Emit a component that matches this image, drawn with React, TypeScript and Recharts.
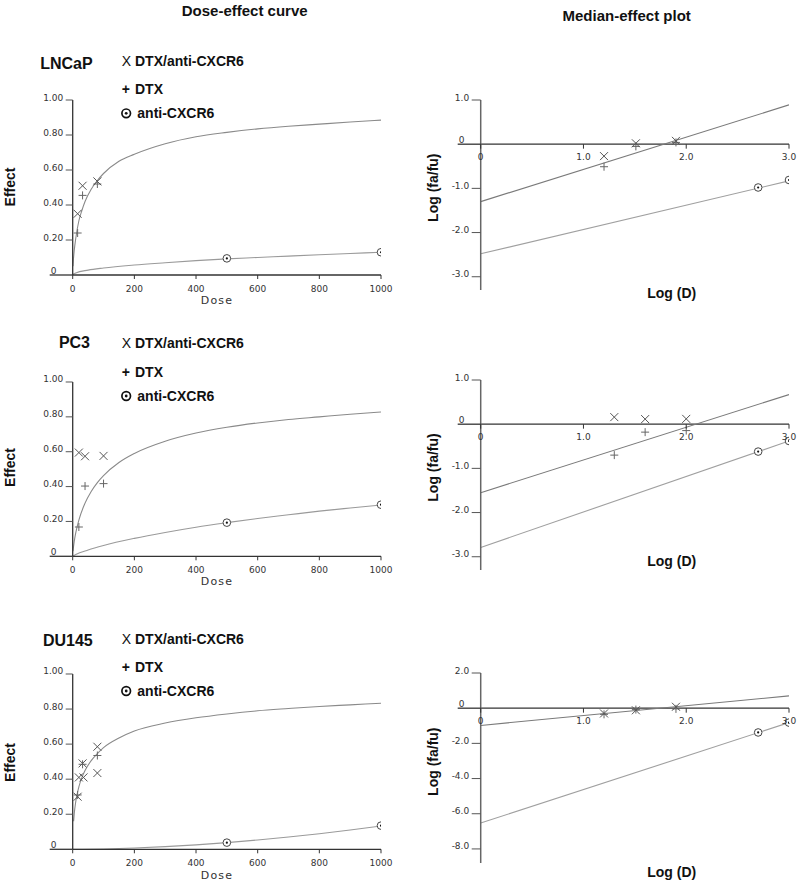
import React from 'react';
import { ComposedChart, Line, Scatter, XAxis, YAxis, ReferenceLine } from 'recharts';

const FONT = '"Liberation Sans", Arial, Helvetica, sans-serif';
const TICK_FONT = '"DejaVu Sans", Verdana, sans-serif';

// ---------- tick values ----------
const doseTicks = [0, 200, 400, 600, 800, 1000];
const effectTicks = [0, 0.2, 0.4, 0.6, 0.8, 1.0];
const logDTicks = [0, 1, 2, 3];
const medianTicksSmall = [-3, -2, -1, 0, 1];
const medianTicksWide = [-8, -6, -4, -2, 0, 2];

// ---------- LNCaP ----------
const lncapComboDose = [{ dose: 16, effect: 0.35 }, { dose: 32, effect: 0.51 }, { dose: 80, effect: 0.535 }];
const lncapDtxDose = [{ dose: 16, effect: 0.24 }, { dose: 32, effect: 0.455 }, { dose: 80, effect: 0.52 }];
const lncapAbDose = [{ dose: 500, effect: 0.095 }, { dose: 1000, effect: 0.13 }];
const lncapUpperCurve = [
  { dose: 1, effect: 0.05 }, { dose: 2, effect: 0.08 }, { dose: 5, effect: 0.14 }, { dose: 10, effect: 0.21 },
  { dose: 20, effect: 0.31 }, { dose: 30, effect: 0.37 }, { dose: 40, effect: 0.42 }, { dose: 60, effect: 0.49 },
  { dose: 80, effect: 0.54 }, { dose: 100, effect: 0.58 }, { dose: 150, effect: 0.65 }, { dose: 200, effect: 0.69 },
  { dose: 300, effect: 0.75 }, { dose: 400, effect: 0.79 }, { dose: 500, effect: 0.815 }, { dose: 600, effect: 0.835 },
  { dose: 700, effect: 0.85 }, { dose: 800, effect: 0.862 }, { dose: 900, effect: 0.874 }, { dose: 1000, effect: 0.885 },
];
const lncapLowerCurve = [
  { dose: 0, effect: 0 }, { dose: 2, effect: 0.005 }, { dose: 10, effect: 0.012 }, { dose: 50, effect: 0.028 },
  { dose: 100, effect: 0.04 }, { dose: 200, effect: 0.057 }, { dose: 300, effect: 0.07 }, { dose: 400, effect: 0.082 },
  { dose: 500, effect: 0.092 }, { dose: 600, effect: 0.1 }, { dose: 700, effect: 0.108 }, { dose: 800, effect: 0.116 },
  { dose: 900, effect: 0.123 }, { dose: 1000, effect: 0.13 },
];
const lncapComboMedian = [{ logD: 1.2, logRatio: -0.27 }, { logD: 1.51, logRatio: 0.02 }, { logD: 1.9, logRatio: 0.075 }];
const lncapDtxMedian = [{ logD: 1.2, logRatio: -0.51 }, { logD: 1.51, logRatio: -0.05 }, { logD: 1.9, logRatio: 0.04 }];
const lncapAbMedian = [{ logD: 2.7, logRatio: -0.98 }, { logD: 3.0, logRatio: -0.81 }];
const lncapUpperLine = [{ logD: 0, logRatio: -1.3 }, { logD: 3, logRatio: 0.89 }];
const lncapLowerLine = [{ logD: 0, logRatio: -2.48 }, { logD: 3, logRatio: -0.83 }];

// ---------- PC3 ----------
const pc3ComboDose = [{ dose: 20, effect: 0.595 }, { dose: 40, effect: 0.574 }, { dose: 100, effect: 0.576 }];
const pc3DtxDose = [{ dose: 20, effect: 0.168 }, { dose: 40, effect: 0.403 }, { dose: 100, effect: 0.417 }];
const pc3AbDose = [{ dose: 500, effect: 0.193 }, { dose: 1000, effect: 0.296 }];
const pc3UpperCurve = [
  { dose: 1, effect: 0.03 }, { dose: 2, effect: 0.046 }, { dose: 5, effect: 0.086 }, { dose: 10, effect: 0.136 },
  { dose: 20, effect: 0.208 }, { dose: 40, effect: 0.305 }, { dose: 60, effect: 0.372 }, { dose: 80, effect: 0.423 },
  { dose: 100, effect: 0.463 }, { dose: 150, effect: 0.538 }, { dose: 200, effect: 0.59 }, { dose: 300, effect: 0.66 },
  { dose: 400, effect: 0.707 }, { dose: 500, effect: 0.74 }, { dose: 600, effect: 0.765 }, { dose: 700, effect: 0.785 },
  { dose: 800, effect: 0.8 }, { dose: 900, effect: 0.815 }, { dose: 1000, effect: 0.828 },
];
const pc3LowerCurve = [
  { dose: 0, effect: 0 }, { dose: 10, effect: 0.01 }, { dose: 50, effect: 0.036 }, { dose: 100, effect: 0.062 },
  { dose: 200, effect: 0.103 }, { dose: 300, effect: 0.137 }, { dose: 400, effect: 0.167 }, { dose: 500, effect: 0.193 },
  { dose: 600, effect: 0.217 }, { dose: 700, effect: 0.238 }, { dose: 800, effect: 0.259 }, { dose: 900, effect: 0.277 },
  { dose: 1000, effect: 0.294 },
];
const pc3ComboMedian = [{ logD: 1.3, logRatio: 0.16 }, { logD: 1.6, logRatio: 0.115 }, { logD: 2.0, logRatio: 0.12 }];
const pc3DtxMedian = [{ logD: 1.3, logRatio: -0.7 }, { logD: 1.6, logRatio: -0.18 }, { logD: 2.0, logRatio: -0.145 }];
const pc3AbMedian = [{ logD: 2.7, logRatio: -0.62 }, { logD: 3.0, logRatio: -0.38 }];
const pc3UpperLine = [{ logD: 0, logRatio: -1.55 }, { logD: 3, logRatio: 0.67 }];
const pc3LowerLine = [{ logD: 0, logRatio: -2.79 }, { logD: 3, logRatio: -0.38 }];

// ---------- DU145 ----------
const du145ComboDose = [
  { dose: 16, effect: 0.3 }, { dose: 20, effect: 0.41 }, { dose: 32, effect: 0.49 },
  { dose: 35, effect: 0.41 }, { dose: 80, effect: 0.585 }, { dose: 80, effect: 0.435 },
];
const du145DtxDose = [{ dose: 16, effect: 0.31 }, { dose: 32, effect: 0.485 }, { dose: 80, effect: 0.535 }];
const du145AbDose = [{ dose: 500, effect: 0.038 }, { dose: 1000, effect: 0.135 }];
const du145UpperCurve = [
  { dose: 3, effect: 0.16 }, { dose: 5, effect: 0.203 }, { dose: 10, effect: 0.273 }, { dose: 20, effect: 0.356 },
  { dose: 30, effect: 0.41 }, { dose: 40, effect: 0.449 }, { dose: 60, effect: 0.506 }, { dose: 80, effect: 0.546 },
  { dose: 100, effect: 0.58 }, { dose: 150, effect: 0.635 }, { dose: 200, effect: 0.675 }, { dose: 300, effect: 0.72 },
  { dose: 400, effect: 0.75 }, { dose: 500, effect: 0.772 }, { dose: 600, effect: 0.79 }, { dose: 700, effect: 0.803 },
  { dose: 800, effect: 0.815 }, { dose: 900, effect: 0.824 }, { dose: 1000, effect: 0.833 },
];
const du145LowerCurve = [
  { dose: 0, effect: 0 }, { dose: 100, effect: 0.002 }, { dose: 200, effect: 0.007 }, { dose: 300, effect: 0.015 },
  { dose: 400, effect: 0.025 }, { dose: 500, effect: 0.038 }, { dose: 600, effect: 0.053 }, { dose: 700, effect: 0.07 },
  { dose: 800, effect: 0.089 }, { dose: 900, effect: 0.11 }, { dose: 1000, effect: 0.133 },
];
const du145ComboMedian = [{ logD: 1.2, logRatio: -0.3 }, { logD: 1.51, logRatio: -0.12 }, { logD: 1.9, logRatio: 0.08 }];
const du145DtxMedian = [{ logD: 1.2, logRatio: -0.35 }, { logD: 1.51, logRatio: -0.08 }, { logD: 1.9, logRatio: -0.04 }];
const du145AbMedian = [{ logD: 2.7, logRatio: -1.38 }, { logD: 3.0, logRatio: -0.82 }];
const du145UpperLine = [{ logD: 0, logRatio: -0.98 }, { logD: 3, logRatio: 0.7 }];
const du145LowerLine = [{ logD: 0, logRatio: -6.53 }, { logD: 3, logRatio: -0.82 }];

// ---------- marker shapes ----------
const CrossShape = (props: any) => {
  const { cx, cy } = props;
  if (cx == null || cy == null) return <g />;
  const s = 4;
  return (
    <g stroke="#555" strokeWidth={1} fill="none">
      <line x1={cx - s} y1={cy - s} x2={cx + s} y2={cy + s} />
      <line x1={cx - s} y1={cy + s} x2={cx + s} y2={cy - s} />
    </g>
  );
};
const PlusShape = (props: any) => {
  const { cx, cy } = props;
  if (cx == null || cy == null) return <g />;
  const s = 4;
  return (
    <g stroke="#666" strokeWidth={1} fill="none">
      <line x1={cx - s} y1={cy} x2={cx + s} y2={cy} />
      <line x1={cx} y1={cy - s} x2={cx} y2={cy + s} />
    </g>
  );
};
const CircleDotShape = (props: any) => {
  const { cx, cy } = props;
  if (cx == null || cy == null) return <g />;
  return (
    <g>
      <circle cx={cx} cy={cy} r={3.8} fill="#fff" stroke="#444" strokeWidth={1} />
      <circle cx={cx} cy={cy} r={1.1} fill="#111" />
    </g>
  );
};

// ---------- ticks ----------
const makeYTick = (decimals: number, tickLen: number, gap: number) => (props: any) => {
  const { x, y, payload } = props;
  const v = payload.value as number;
  if (v === 0) {
    return (
      <g>
        <line x1={x - 23} y1={y} x2={x} y2={y} stroke="#333" strokeWidth={1.3} />
        <text x={x - 22} y={y - 1.5} fontSize={9} fill="#333" fontFamily={TICK_FONT}>0</text>
      </g>
    );
  }
  return (
    <g>
      <line x1={x - tickLen} y1={y} x2={x} y2={y} stroke="#555" strokeWidth={1} />
      <text x={x - gap} y={y + 0.5} fontSize={9} fill="#333" fontFamily={TICK_FONT} textAnchor="end">
        {v.toFixed(decimals)}
      </text>
    </g>
  );
};

const DoseXTick = (props: any) => {
  const { x, y, payload } = props;
  return (
    <g>
      <line x1={x} y1={y} x2={x} y2={y + 4} stroke="#333" strokeWidth={1} />
      <text x={x} y={y + 16.5} fontSize={9} fill="#333" fontFamily={TICK_FONT} textAnchor="middle">
        {payload.value}
      </text>
    </g>
  );
};

const makeLogXTick = (shift: number) => (props: any) => {
  const { x, y, payload } = props;
  const v = payload.value as number;
  const y0 = y - shift;
  return (
    <g>
      <line x1={x} y1={y0} x2={x} y2={y0 + 4.5} stroke="#333" strokeWidth={1} />
      <text x={x} y={y0 + 15.7} fontSize={9} fill="#333" fontFamily={TICK_FONT} textAnchor="middle">
        {v === 0 ? '0' : v.toFixed(1)}
      </text>
    </g>
  );
};

const effectYTick = makeYTick(2, 7, 9.5);
const medianYTick = makeYTick(1, 9, 11.5);

// ---------- panels ----------
type DosePanelProps = {
  plotTop: number;
  plotH: number;
  upper: any[];
  lower: any[];
  combo: any[];
  dtx: any[];
  ab: any[];
};

function DoseEffectChart({ plotTop, plotH, upper, lower, combo, dtx, ab }: DosePanelProps) {
  return (
    <div style={{ position: 'absolute', left: 0, top: plotTop - 20 }}>
      <ComposedChart width={400} height={20 + plotH + 45} margin={{ top: 20, right: 19, bottom: 0, left: 0 }}>
        <XAxis
          type="number"
          dataKey="dose"
          domain={[0, 1000]}
          ticks={doseTicks}
          interval={0}
          height={45}
          axisLine={{ stroke: '#333', strokeWidth: 1.3 }}
          tickLine={false}
          tickSize={0}
          tickMargin={0}
          tick={DoseXTick}
          allowDataOverflow
        />
        <YAxis
          type="number"
          dataKey="effect"
          domain={[0, 1]}
          ticks={effectTicks}
          interval={0}
          width={72.7}
          axisLine={{ stroke: '#333', strokeWidth: 1.3 }}
          tickLine={false}
          tickSize={0}
          tickMargin={0}
          tick={effectYTick}
          allowDataOverflow
        />
        <Line data={upper} dataKey="effect" type="monotone" stroke="#8a8a8a" strokeWidth={1.1} dot={false} activeDot={false} isAnimationActive={false} />
        <Line data={lower} dataKey="effect" type="monotone" stroke="#9a9a9a" strokeWidth={1.1} dot={false} activeDot={false} isAnimationActive={false} />
        <Scatter data={dtx} dataKey="effect" shape={PlusShape} isAnimationActive={false} />
        <Scatter data={combo} dataKey="effect" shape={CrossShape} isAnimationActive={false} />
        <Scatter data={ab} dataKey="effect" shape={CircleDotShape} isAnimationActive={false} />
      </ComposedChart>
    </div>
  );
}

type MedianPanelProps = {
  plotTop: number;
  yDomain: [number, number];
  yTicks: number[];
  upper: any[];
  lower: any[];
  combo: any[];
  dtx: any[];
  ab: any[];
};

function MedianChart({ plotTop, yDomain, yTicks, upper, lower, combo, dtx, ab }: MedianPanelProps) {
  const plotH = 190;
  const shift = (plotH * (0 - yDomain[0])) / (yDomain[1] - yDomain[0]);
  const xTick = makeLogXTick(shift);
  return (
    <div style={{ position: 'absolute', left: 400, top: plotTop - 20 }}>
      <ComposedChart width={400} height={20 + plotH + 10} margin={{ top: 20, right: 11, bottom: 0, left: 0 }}>
        <XAxis
          type="number"
          dataKey="logD"
          domain={[0, 3]}
          ticks={logDTicks}
          interval={0}
          height={10}
          axisLine={false}
          tickLine={false}
          tickSize={0}
          tickMargin={0}
          tick={xTick}
          allowDataOverflow
        />
        <YAxis
          type="number"
          dataKey="logRatio"
          domain={yDomain}
          ticks={yTicks}
          interval={0}
          width={80.7}
          axisLine={{ stroke: '#666', strokeWidth: 1.5 }}
          tickLine={false}
          tickSize={0}
          tickMargin={0}
          tick={medianYTick}
          allowDataOverflow
        />
        <ReferenceLine y={0} stroke="#333" strokeWidth={1.3} />
        <Line data={upper} dataKey="logRatio" type="linear" stroke="#7a7a7a" strokeWidth={1.1} dot={false} activeDot={false} isAnimationActive={false} />
        <Line data={lower} dataKey="logRatio" type="linear" stroke="#a0a0a0" strokeWidth={1.1} dot={false} activeDot={false} isAnimationActive={false} />
        <Scatter data={dtx} dataKey="logRatio" shape={PlusShape} isAnimationActive={false} />
        <Scatter data={combo} dataKey="logRatio" shape={CrossShape} isAnimationActive={false} />
        <Scatter data={ab} dataKey="logRatio" shape={CircleDotShape} isAnimationActive={false} />
      </ComposedChart>
    </div>
  );
}

// ---------- static text ----------
function Legend({ y1, y2, y3 }: { y1: number; y2: number; y3: number }) {
  return (
    <g fontFamily={FONT} fontSize={14} fill="#111">
      <text x={121.7} y={y1} dominantBaseline="central" fontWeight="normal">X</text>
      <text x={135} y={y1} dominantBaseline="central" fontWeight="bold">DTX/anti-CXCR6</text>
      <text x={121.7} y={y2} dominantBaseline="central" fontWeight="bold">+</text>
      <text x={135} y={y2} dominantBaseline="central" fontWeight="bold">DTX</text>
      <circle cx={126.2} cy={y3} r={4.3} fill="none" stroke="#111" strokeWidth={1.7} />
      <circle cx={126.2} cy={y3} r={1.4} fill="#111" />
      <text x={137.3} y={y3} dominantBaseline="central" fontWeight="bold">anti-CXCR6</text>
    </g>
  );
}

function Overlay() {
  const bold = { fontFamily: FONT, fontWeight: 'bold' as const, fill: '#111' };
  const rowTitles = [
    { name: 'LNCaP', x: 92.7, y: 63.3 },
    { name: 'PC3', x: 90, y: 342.7 },
    { name: 'DU145', x: 92.7, y: 640 },
  ];
  const effectY = [187, 467.5, 762.5];
  const doseY = [300.7, 581.7, 875.7];
  const logFaY = [187.7, 467.5, 761.7];
  const logDY = [293.3, 561, 871.7];
  return (
    <svg width={800} height={885} style={{ position: 'absolute', left: 0, top: 0, pointerEvents: 'none' }}>
      <text x={244.7} y={10.7} textAnchor="middle" dominantBaseline="central" fontSize={15} {...bold}>Dose-effect curve</text>
      <text x={626.7} y={15} textAnchor="middle" dominantBaseline="central" fontSize={15} {...bold}>Median-effect plot</text>
      {rowTitles.map((r) => (
        <text key={r.name} x={r.x} y={r.y} textAnchor="end" dominantBaseline="central" fontSize={16} {...bold}>{r.name}</text>
      ))}
      <Legend y1={61} y2={89.3} y3={113.3} />
      <Legend y1={342.7} y2={371.7} y3={396} />
      <Legend y1={639.3} y2={666.7} y3={691} />
      {effectY.map((y, i) => (
        <text key={'e' + i} x={10} y={y} transform={`rotate(-90 10 ${y})`} textAnchor="middle" dominantBaseline="central" fontSize={14} {...bold}>Effect</text>
      ))}
      {doseY.map((y, i) => (
        <text key={'d' + i} x={217} y={y} textAnchor="middle" dominantBaseline="central" fontSize={11} letterSpacing={1.2} fontFamily={TICK_FONT} fill="#333">Dose</text>
      ))}
      {logFaY.map((y, i) => (
        <text key={'f' + i} x={433} y={y} transform={`rotate(-90 433 ${y})`} textAnchor="middle" dominantBaseline="central" fontSize={14} {...bold}>Log (fa/fu)</text>
      ))}
      {logDY.map((y, i) => (
        <text key={'l' + i} x={671.7} y={y} textAnchor="middle" dominantBaseline="central" fontSize={14} {...bold}>Log (D)</text>
      ))}
    </svg>
  );
}

export default function App() {
  return (
    <div style={{ position: 'absolute', left: 0, top: 0, width: 800, height: 885, background: '#fff', overflow: 'hidden' }}>
      <DoseEffectChart plotTop={99.5} plotH={175} upper={lncapUpperCurve} lower={lncapLowerCurve} combo={lncapComboDose} dtx={lncapDtxDose} ab={lncapAbDose} />
      <DoseEffectChart plotTop={381.7} plotH={174.3} upper={pc3UpperCurve} lower={pc3LowerCurve} combo={pc3ComboDose} dtx={pc3DtxDose} ab={pc3AbDose} />
      <DoseEffectChart plotTop={674} plotH={175.3} upper={du145UpperCurve} lower={du145LowerCurve} combo={du145ComboDose} dtx={du145DtxDose} ab={du145AbDose} />
      <MedianChart plotTop={100} yDomain={[-3.3, 1]} yTicks={medianTicksSmall} upper={lncapUpperLine} lower={lncapLowerLine} combo={lncapComboMedian} dtx={lncapDtxMedian} ab={lncapAbMedian} />
      <MedianChart plotTop={380.3} yDomain={[-3.3, 1]} yTicks={medianTicksSmall} upper={pc3UpperLine} lower={pc3LowerLine} combo={pc3ComboMedian} dtx={pc3DtxMedian} ab={pc3AbMedian} />
      <MedianChart plotTop={673.3} yDomain={[-8.8, 2]} yTicks={medianTicksWide} upper={du145UpperLine} lower={du145LowerLine} combo={du145ComboMedian} dtx={du145DtxMedian} ab={du145AbMedian} />
      <Overlay />
    </div>
  );
}
